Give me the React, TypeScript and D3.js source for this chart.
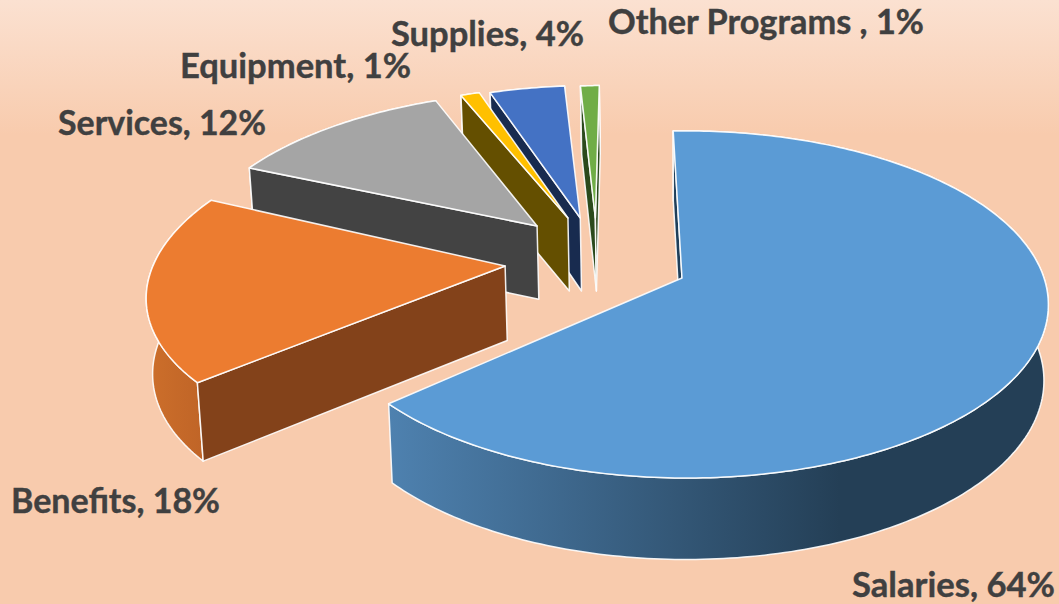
import React from "react";
import * as d3 from "d3";

// Budget shares, in drawing order around the pie
const categories = ["Salaries", "Benefits", "Services", "Equipment", "Supplies", "Other Programs "];
const shares = [64, 18, 12, 1, 4, 1];

const topColors = ["#5b9bd5", "#ec7c30", "#a5a5a5", "#ffc000", "#4472c4", "#70ad47"];
const sideColors = ["#1f3f5a", "#83421a", "#434343", "#644f00", "#182b4f", "#2b4a1c"];

// How far each slice's rim is pulled away from the pie centre, in disc units
const pullX = [0.01, -0.478, -0.406, -0.327, -0.291, -0.238];
const pullY = [0, -0.102, -0.33, -0.374, -0.374, -0.374];
// Where each slice's tip sits relative to its rim centre
const tipX = [-0.01, -0.016, -0.014, -0.006, -0.006, -0.015];
const tipY = [0, 0.03, 0.008, 0, 0, 0];
const rimRadius = [0.99, 1, 1, 1, 1, 1];

const labelX = [852, 11, 58, 180, 391, 608];
const labelY = [597, 513, 135, 78, 46, 34];
const labelWidth = [203, 209, 208, 231, 193, 316];

const WIDTH = 1059;
const HEIGHT = 604;
const CX = 682;
const CY = 278;
const RX = 362;
const RY = 169.5;
const DEPTH = 75;
const PERSPECTIVE = 0.1525;
const DEPTH_SHRINK = 0.012;
const ROTATION = (-2.2 * Math.PI) / 180;

type Pt = [number, number];

// Perspective projection of a disc point (u right, v toward the viewer, z 0 top / 1 bottom)
function project(u: number, v: number, z: number): Pt {
  const s = 1 / (1 - PERSPECTIVE * v);
  return [CX + RX * u * s * (1 - DEPTH_SHRINK * z), CY + RY * v * s + DEPTH * z * Math.sqrt(s)];
}

const outline = d3.line<Pt>().x((p) => p[0]).y((p) => p[1]);
const closed = (pts: Pt[]) => outline(pts) + "Z";

const arcs = d3
  .pie<number>()
  .sort(null)
  .startAngle(ROTATION)
  .endAngle(ROTATION + Math.PI * 2)(shares);

const slices = arcs.map((a, i) => {
  const ox = pullX[i];
  const oy = pullY[i];
  const r = rimRadius[i];
  const steps = Math.max(8, Math.ceil((a.endAngle - a.startAngle) * 60));
  const angles = d3.range(steps + 1).map((k) => a.startAngle + ((a.endAngle - a.startAngle) * k) / steps);
  // The radius trims the rim sideways only, so the pie keeps its full front-to-back reach
  const rim = (z: number) => angles.map((t) => project(ox + r * Math.sin(t), oy - Math.cos(t), z));
  const topRim = rim(0);
  const bottomRim = rim(1);
  const apexTop = project(ox + tipX[i], oy + tipY[i], 0);
  const apexBottom = project(ox + tipX[i], oy + tipY[i], 1);
  const startFace: Pt[] = [apexTop, topRim[0], bottomRim[0], apexBottom];
  const endFace: Pt[] = [apexTop, topRim[steps], bottomRim[steps], apexBottom];
  return {
    i,
    top: closed([apexTop, ...topRim]),
    wall: closed([...topRim, ...bottomRim.slice().reverse()]),
    // Radial faces are drawn only when they turn toward the viewer
    startFace: d3.polygonArea(startFace) > 0 ? closed(startFace) : null,
    endFace: d3.polygonArea(endFace) < 0 ? closed(endFace) : null,
  };
});

// Painted from the back of the pie to the front
const paintOrder = [5, 4, 3, 2, 1, 0];

const edge = { stroke: "#ffffff", strokeOpacity: 0.9, strokeWidth: 1.5, strokeLinejoin: "round" as const };

export default function App() {
  return (
    <svg
      width={WIDTH}
      height={HEIGHT}
      viewBox={`0 0 ${WIDTH} ${HEIGHT}`}
      style={{ position: "absolute", left: 0, top: 0, display: "block" }}
    >
      <defs>
        <linearGradient id="page" gradientUnits="userSpaceOnUse" x1={0} y1={0} x2={0} y2={135}>
          <stop offset="0" stopColor="#fbe1d1" />
          <stop offset="1" stopColor="#f8cbad" />
        </linearGradient>
        <linearGradient id="wall0" gradientUnits="userSpaceOnUse" x1={390} y1={0} x2={840} y2={0}>
          <stop offset="0" stopColor="#4e81af" />
          <stop offset="1" stopColor="#243f56" />
        </linearGradient>
        <linearGradient id="wall1" gradientUnits="userSpaceOnUse" x1={146} y1={0} x2={205} y2={0}>
          <stop offset="0" stopColor="#cd6f2b" />
          <stop offset="1" stopColor="#bf6427" />
        </linearGradient>
      </defs>
      <rect width={WIDTH} height={HEIGHT} fill="url(#page)" />
      {paintOrder.map((i) => {
        const s = slices[i];
        const wallFill = i < 2 ? `url(#wall${i})` : sideColors[i];
        return (
          <g key={categories[i]}>
            <path d={s.wall} fill={wallFill} {...edge} />
            {s.startFace && <path d={s.startFace} fill={sideColors[i]} {...edge} />}
            {s.endFace && <path d={s.endFace} fill={sideColors[i]} {...edge} />}
            <path d={s.top} fill={topColors[i]} {...edge} />
          </g>
        );
      })}
      {categories.map((c, i) => (
        <text
          key={c}
          x={labelX[i]}
          y={labelY[i]}
          textLength={labelWidth[i]}
          lengthAdjust="spacingAndGlyphs"
          fontFamily="Lato, sans-serif"
          fontWeight={700}
          fontSize={34.7}
          fill="#404040"
          stroke="#404040"
          strokeWidth={0.4}
        >
          {`${c}, ${shares[i]}%`}
        </text>
      ))}
    </svg>
  );
}
